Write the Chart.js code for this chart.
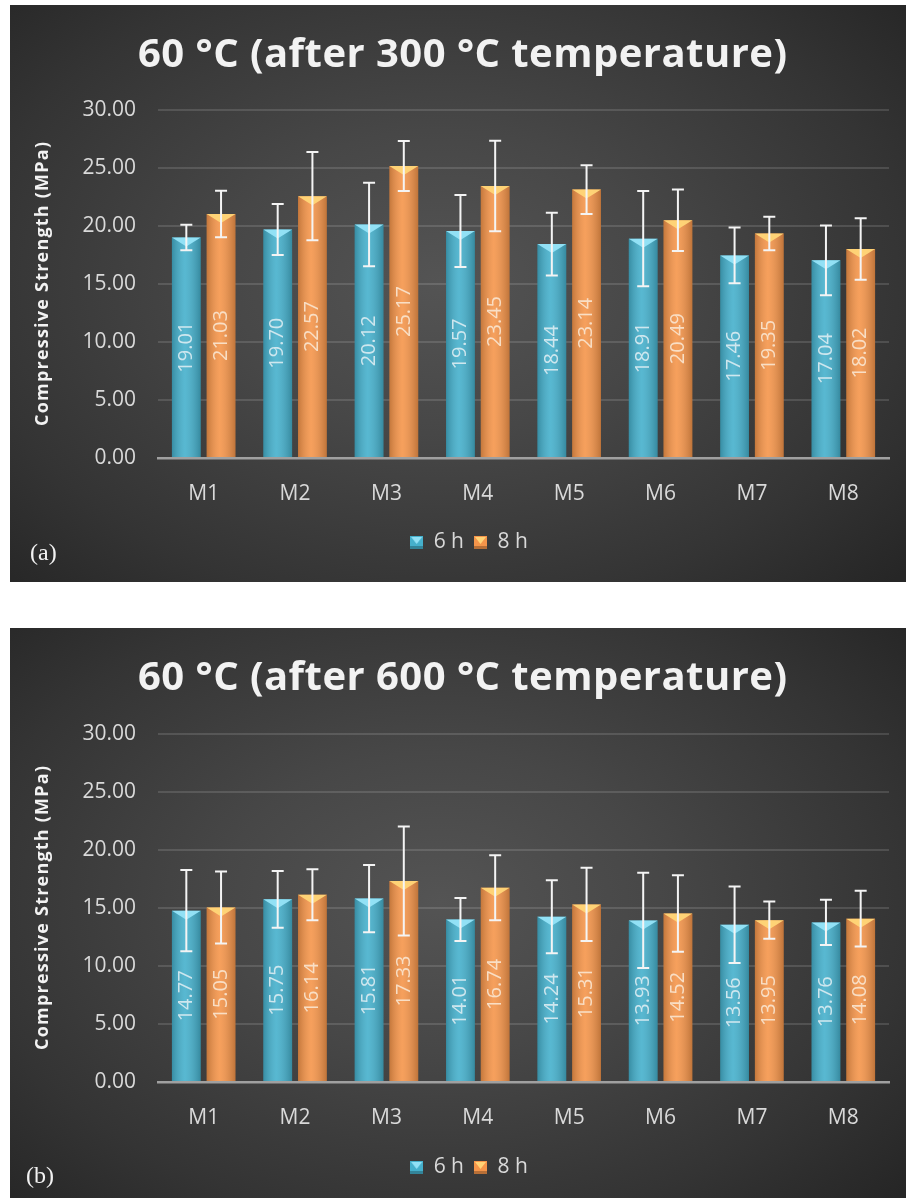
<!DOCTYPE html>
<html>
<head>
<meta charset="utf-8">
<script src="https://cdn.jsdelivr.net/npm/chart.js@4/dist/chart.umd.min.js"></script>
<style>
  body { margin: 0; background: #fff; width: 906px; height: 1198px; position: relative; overflow: hidden; }
  .panel {
    position: absolute; left: 10px; width: 896px;
    background: radial-gradient(ellipse 70% 75% at 48% 48%, #545454 0%, #474747 35%, #343434 75%, #262626 100%);
  }
  #pa { top: 5px; height: 577px; }
  #pb { top: 628px; height: 570px; }
  canvas { display: block; }
</style>
</head>
<body>
<div class="panel" id="pa"><canvas id="chartA" width="896" height="577"></canvas></div>
<div class="panel" id="pb"><canvas id="chartB" width="896" height="570"></canvas></div>

<script>
// categories and values
const categories = ['M1', 'M2', 'M3', 'M4', 'M5', 'M6', 'M7', 'M8'];
const seriesNames = ['6 h', '8 h'];

// (a) after 300 °C
const a6h = [19.01, 19.70, 20.12, 19.57, 18.44, 18.91, 17.46, 17.04];
const a8h = [21.03, 22.57, 25.17, 23.45, 23.14, 20.49, 19.35, 18.02];
const a6hErr = [1.1, 2.2, 3.6, 3.1, 2.7, 4.1, 2.4, 3.0];
const a8hErr = [2.0, 3.8, 2.15, 3.9, 2.1, 2.65, 1.45, 2.65];

// (b) after 600 °C
const b6h = [14.77, 15.75, 15.81, 14.01, 14.24, 13.93, 13.56, 13.76];
const b8h = [15.05, 16.14, 17.33, 16.74, 15.31, 14.52, 13.95, 14.08];
const b6hErr = [3.5, 2.45, 2.9, 1.85, 3.15, 4.1, 3.3, 1.95];
const b8hErr = [3.1, 2.2, 4.7, 2.8, 3.15, 3.3, 1.6, 2.4];

const yMin = 0, yMax = 30, yStep = 5;

const blue = '#45b0cc';
const orange = '#f5954a';
const blueCap = 'rgba(150,228,248,0.95)';
const orangeCap = 'rgba(255,214,120,0.95)';

// small pyramid-like legend marker
function makeMarker(color, cap) {
  const c = document.createElement('canvas');
  c.width = 13; c.height = 13;
  const g = c.getContext('2d');
  g.fillStyle = color;
  g.fillRect(0, 0, 13, 13);
  g.fillStyle = 'rgba(0,0,0,0.25)';
  g.fillRect(0, 10, 13, 3);
  g.fillStyle = cap;
  g.beginPath(); g.moveTo(1, 1); g.lineTo(12, 1); g.lineTo(6.5, 8); g.closePath(); g.fill();
  return c;
}
const markers = [makeMarker(blue, blueCap), makeMarker(orange, orangeCap)];

// text drawn with letter spacing so the width matches the original
function spacedText(ctx, text, cx, cy, target, font, color, rot) {
  ctx.save();
  ctx.font = font;
  ctx.fillStyle = color;
  ctx.letterSpacing = '0px';
  const w0 = ctx.measureText(text).width;
  const n = text.length;
  const sp = Math.max(0, (target - w0) / (n - 1));
  ctx.letterSpacing = sp + 'px';
  ctx.translate(cx, cy);
  if (rot) ctx.rotate(rot);
  ctx.textAlign = 'left';
  ctx.textBaseline = 'alphabetic';
  ctx.fillText(text, -target / 2, 0);
  ctx.restore();
}

// shading on bars, error bars and the rotated value labels
const barExtras = {
  id: 'barExtras',
  afterDatasetsDraw(chart) {
    const ctx = chart.ctx;
    const yScale = chart.scales.y;
    chart.data.datasets.forEach((ds, i) => {
      const meta = chart.getDatasetMeta(i);
      meta.data.forEach((bar, j) => {
        const left = bar.x - bar.width / 2;
        const right = bar.x + bar.width / 2;
        // side shading
        const grad = ctx.createLinearGradient(left, 0, right, 0);
        grad.addColorStop(0, 'rgba(0,0,0,0.20)');
        grad.addColorStop(0.45, 'rgba(255,255,255,0.10)');
        grad.addColorStop(1, 'rgba(0,0,0,0.22)');
        ctx.fillStyle = grad;
        ctx.fillRect(left, bar.y, bar.width, bar.base - bar.y);
        // top bevel
        ctx.fillStyle = i === 0 ? blueCap : orangeCap;
        ctx.beginPath();
        ctx.moveTo(left, bar.y);
        ctx.lineTo(right, bar.y);
        ctx.lineTo(bar.x, bar.y + 9);
        ctx.closePath();
        ctx.fill();
      });
    });
    // error bars
    ctx.save();
    ctx.strokeStyle = '#f4f4f4';
    ctx.lineWidth = 2;
    chart.data.datasets.forEach((ds, i) => {
      const meta = chart.getDatasetMeta(i);
      meta.data.forEach((bar, j) => {
        const v = ds.data[j], e = ds.errors[j];
        const yt = yScale.getPixelForValue(v + e);
        const yb = yScale.getPixelForValue(v - e);
        ctx.beginPath();
        ctx.moveTo(bar.x, yt); ctx.lineTo(bar.x, yb);
        ctx.moveTo(bar.x - 6, yt); ctx.lineTo(bar.x + 6, yt);
        ctx.moveTo(bar.x - 6, yb); ctx.lineTo(bar.x + 6, yb);
        ctx.stroke();
      });
    });
    ctx.restore();
    // value labels
    chart.data.datasets.forEach((ds, i) => {
      const meta = chart.getDatasetMeta(i);
      meta.data.forEach((bar, j) => {
        ctx.save();
        ctx.translate(bar.x, (bar.y + bar.base) / 2);
        ctx.rotate(-Math.PI / 2);
        ctx.font = '20px "Open Sans"';
        ctx.fillStyle = i === 0 ? 'rgba(220,236,242,0.9)' : 'rgba(250,230,208,0.9)';
        ctx.textAlign = 'center';
        ctx.textBaseline = 'middle';
        ctx.fillText(ds.data[j].toFixed(2), 0, 0);
        ctx.restore();
      });
    });
  }
};

// title, y-axis title and panel tag
const panelText = {
  id: 'panelText',
  afterDraw(chart) {
    const o = chart.options.plugins.panelText;
    const ctx = chart.ctx;
    const ca = chart.chartArea;
    spacedText(ctx, o.title, 452.5, 62, 649, 'bold 40px "Open Sans"', '#f2f2f2', 0);
    spacedText(ctx, 'Compressive Strength (MPa)', 38, (ca.top + ca.bottom) / 2, 284,
      'bold 18px "Open Sans"', '#f2f2f2', -Math.PI / 2);
    ctx.save();
    ctx.font = '24px "Liberation Serif"';
    ctx.fillStyle = '#f2f2f2';
    ctx.textAlign = 'left';
    ctx.textBaseline = 'alphabetic';
    ctx.fillText(o.tag, o.tagX, 555);
    ctx.restore();
  }
};

function buildChart(id, title, tag, tagX, s6, s8, e6, e8, padTop, padBottom, xHeight) {
  return new Chart(document.getElementById(id), {
    type: 'bar',
    data: {
      labels: categories,
      datasets: [
        { label: seriesNames[0], data: s6, errors: e6, backgroundColor: blue, pointStyle: markers[0] },
        { label: seriesNames[1], data: s8, errors: e8, backgroundColor: orange, pointStyle: markers[1] }
      ]
    },
    options: {
      responsive: false,
      animation: false,
      devicePixelRatio: 1,
      barPercentage: 0.83,
      categoryPercentage: 0.76,
      layout: { padding: { top: padTop, left: 39, right: 17, bottom: padBottom } },
      scales: {
        x: {
          grid: { display: false },
          border: { display: true, color: '#a0a0a0', width: 2.5 },
          ticks: { color: '#d9d9d9', font: { family: 'Open Sans', size: 21 }, padding: 15 },
          afterFit: s => { s.height = xHeight; }
        },
        y: {
          min: yMin, max: yMax,
          grid: { color: 'rgba(255,255,255,0.13)', lineWidth: 2, drawTicks: false },
          border: { display: false },
          ticks: {
            stepSize: yStep, padding: 22, color: '#d9d9d9',
            font: { family: 'Open Sans', size: 21 },
            callback: v => v.toFixed(2)
          },
          afterFit: s => { s.width = 109; }
        }
      },
      plugins: {
        tooltip: { enabled: false },
        legend: {
          position: 'bottom',
          labels: {
            color: '#d9d9d9',
            font: { family: 'Open Sans', size: 21 },
            usePointStyle: true,
            boxWidth: 13, boxHeight: 13,
            padding: 10,
            generateLabels: chart => {
              const items = Chart.defaults.plugins.legend.labels.generateLabels(chart);
              items.forEach((it, k) => { it.pointStyle = markers[k]; it.fontColor = '#d9d9d9'; });
              return items;
            }
          }
        },
        panelText: { title: title, tag: tag, tagX: tagX }
      }
    },
    plugins: [barExtras, panelText]
  });
}

buildChart('chartA', '60 °C (after 300 °C temperature)', '(a)', 20, a6h, a8h, a6hErr, a8hErr, 105, 19, 64);
buildChart('chartB', '60 °C (after 600 °C temperature)', '(b)', 16, b6h, b8h, b6hErr, b8hErr, 106, 10, 65);
</script>
</body>
</html>
